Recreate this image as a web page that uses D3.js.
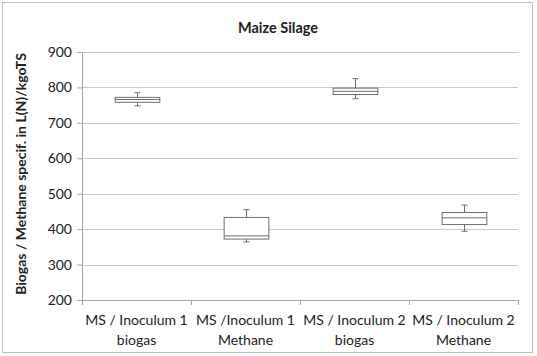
<!DOCTYPE html>
<html>
<head>
<meta charset="utf-8">
<script src="https://cdn.jsdelivr.net/npm/d3@7"></script>
<style>
  body { margin: 0; background: #fff; }
  text { font-family: Lato, "Open Sans", sans-serif; fill: #222; }
</style>
</head>
<body>
<div id="chart"></div>
<script>
const categories = [
  ['MS / Inoculum 1', 'biogas'],
  ['MS /Inoculum 1', 'Methane'],
  ['MS / Inoculum 2', 'biogas'],
  ['MS / Inoculum 2', 'Methane']
];
const minVals = [748, 364, 768, 394];
const q1Vals = [758, 372, 780, 413];
const medVals = [766, 381, 789, 432];
const q3Vals = [772, 433, 798, 447];
const maxVals = [785, 455, 825, 468];
const yTicks = [200, 300, 400, 500, 600, 700, 800, 900];

const width = 537, height = 356;
const margin = {top: 52, right: 19, bottom: 56, left: 82};
const w = width - margin.left - margin.right;
const h = height - margin.top - margin.bottom;

let svg = d3.select('#chart')
  .append('svg')
  .attr('width', width)
  .attr('height', height);

// outer frame
svg.append('rect')
  .attr('x', 2.5).attr('y', 2.5)
  .attr('width', width - 7).attr('height', height - 6)
  .attr('fill', 'none')
  .attr('stroke', '#bfbfbf');

svg.append('text')
  .attr('x', 278).attr('y', 33)
  .style('text-anchor', 'middle')
  .style('font-size', '14.5px')
  .style('font-weight', 'bold')
  .text('Maize Silage');

svg.append('text')
  .attr('transform', `translate(26, ${margin.top + h / 2 - 2}) rotate(-90)`)
  .style('text-anchor', 'middle')
  .style('font-size', '14px')
  .style('font-weight', 'bold')
  .text('Biogas / Methane specif.  in L(N)/kgoTS');

let g = svg.append('g')
  .attr('transform', `translate(${margin.left}, ${margin.top})`);

let y = d3.scaleLinear().domain([200, 900]).range([h, 0]);
let x = d3.scaleBand().domain(d3.range(categories.length)).range([0, w]);

// gridlines
g.selectAll('.grid').data(yTicks.slice(1)).enter()
  .append('line')
  .attr('x1', 0).attr('x2', w)
  .attr('y1', d => Math.round(y(d)) + 0.5).attr('y2', d => Math.round(y(d)) + 0.5)
  .attr('stroke', '#c8c8c8');

let yAxis = g.append('g')
  .call(d3.axisLeft(y).tickValues(yTicks).tickSize(5).tickPadding(5));
yAxis.select('.domain').attr('stroke', '#a6a6a6');
yAxis.selectAll('.tick line').attr('stroke', '#a6a6a6');
yAxis.selectAll('.tick text').style('font-size', '14px').attr('fill', '#222');

let xAxis = g.append('g').attr('transform', `translate(0, ${h})`);
xAxis.append('line').attr('x1', 0).attr('x2', w).attr('y1', 0.5).attr('y2', 0.5).attr('stroke', '#a6a6a6');
xAxis.selectAll('.xt').data(d3.range(categories.length + 1)).enter()
  .append('line')
  .attr('x1', d => Math.round(d * x.step()) + 0.5).attr('x2', d => Math.round(d * x.step()) + 0.5)
  .attr('y1', 0).attr('y2', 5)
  .attr('stroke', '#a6a6a6');
categories.forEach((c, i) => {
  let t = xAxis.append('text')
    .attr('x', x(i) + x.bandwidth() / 2)
    .attr('y', 25)
    .style('text-anchor', 'middle')
    .style('font-size', '14px');
  t.append('tspan').attr('x', x(i) + x.bandwidth() / 2).text(c[0]);
  t.append('tspan').attr('x', x(i) + x.bandwidth() / 2).attr('dy', 20).text(c[1]);
});

// boxes
const boxW = x.bandwidth() * 0.41;
const stroke = '#6e6e6e';
categories.forEach((c, i) => {
  let cx = Math.round(x(i) + x.bandwidth() / 2) + 0.5;
  let capW = 6;
  let b = g.append('g');
  b.append('line').attr('x1', cx).attr('x2', cx).attr('y1', y(maxVals[i])).attr('y2', y(q3Vals[i])).attr('stroke', stroke);
  b.append('line').attr('x1', cx).attr('x2', cx).attr('y1', y(q1Vals[i])).attr('y2', y(minVals[i])).attr('stroke', stroke);
  b.append('line').attr('x1', cx - capW / 2).attr('x2', cx + capW / 2).attr('y1', y(maxVals[i])).attr('y2', y(maxVals[i])).attr('stroke', stroke);
  b.append('line').attr('x1', cx - capW / 2).attr('x2', cx + capW / 2).attr('y1', y(minVals[i])).attr('y2', y(minVals[i])).attr('stroke', stroke);
  b.append('rect')
    .attr('x', cx - boxW / 2).attr('width', boxW)
    .attr('y', y(q3Vals[i])).attr('height', y(q1Vals[i]) - y(q3Vals[i]))
    .attr('fill', '#fff').attr('stroke', stroke);
  b.append('line').attr('x1', cx - boxW / 2).attr('x2', cx + boxW / 2).attr('y1', y(medVals[i])).attr('y2', y(medVals[i])).attr('stroke', stroke);
});
</script>
</body>
</html>
